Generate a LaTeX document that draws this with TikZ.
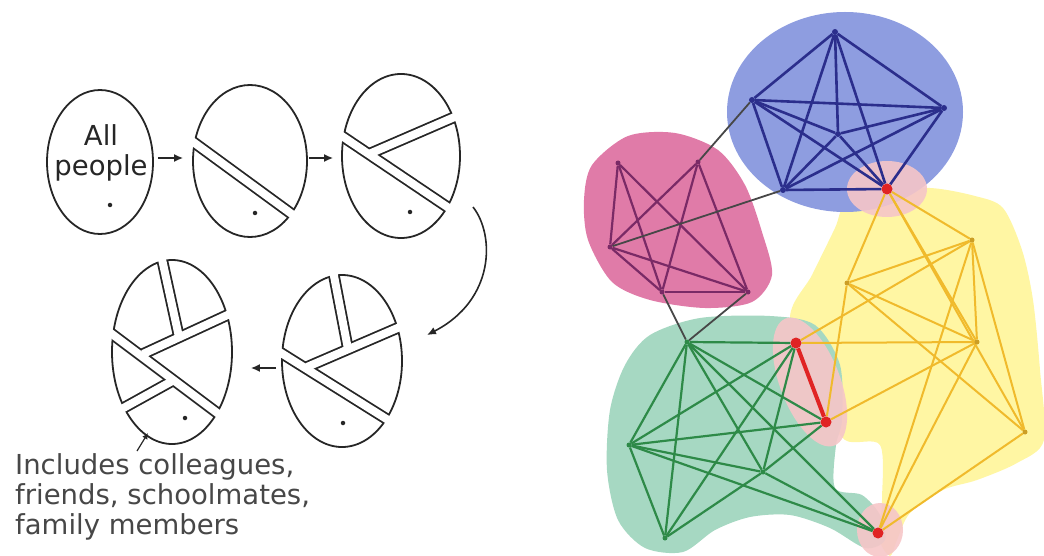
\documentclass[tikz,border=0pt]{standalone}
\usepackage{fontspec}
\setmainfont{DejaVu Sans}
\usepackage{xcolor}
\definecolor{inkGray}{HTML}{262626}
\definecolor{blobBlue}{HTML}{8E9DE0}
\definecolor{linkBlue}{HTML}{2B2E8C}
\definecolor{blobPink}{HTML}{E07BA8}
\definecolor{linkPink}{HTML}{7A2A66}
\definecolor{blobYellow}{HTML}{FFF6A3}
\definecolor{linkYellow}{HTML}{F0BA2C}
\definecolor{blobGreen}{HTML}{A6D8C2}
\definecolor{linkGreen}{HTML}{2E8A48}
\definecolor{haloPink}{HTML}{F6C6C8}
\definecolor{bridgeRed}{HTML}{E02424}
\definecolor{linkGray}{HTML}{474747}
\usetikzlibrary{
    shapes.geometric,
    arrows.meta,
    calc
}
\pgfdeclarelayer{blobs}
\pgfdeclarelayer{links}
\pgfsetlayers{blobs,links,main}
\tikzset{
    % Outline of one group of people
    oval/.style={
        ellipse,
        draw=inkGray,
        line width=1.8pt,
        inner sep=0pt,
    },
    % A cut is a black band that is hollowed out afterwards
    cut band/.style={
        draw=inkGray,
        line width=11.6pt,
    },
    cut gap/.style={
        draw=white,
        line width=8pt,
    },
    % Arrows between the stages
    flow/.style={
        -{Latex[length=9pt, width=8pt]},
        draw=inkGray,
        line width=1.6pt,
    },
    dot/.style={
        circle,
        fill=inkGray,
        inner sep=0pt,
        minimum size=4.5pt,
    },
    note/.style={
        anchor=north west,
        align=left,
        inner sep=0pt,
        text=inkGray!85,
    },
    % Community vertices
    bv/.style={circle, fill=linkBlue, inner sep=0pt, minimum size=6pt},
    pv/.style={circle, fill=linkPink, inner sep=0pt, minimum size=5pt},
    gv/.style={circle, fill=linkGreen, inner sep=0pt, minimum size=5pt},
    yv/.style={circle, fill=linkYellow!85!black, inner sep=0pt, minimum size=5pt},
    rv/.style={circle, fill=bridgeRed, inner sep=0pt, minimum size=11pt},
    % Community links
    blue link/.style={draw=linkBlue, line width=2.6pt},
    pink link/.style={draw=linkPink, line width=2.2pt},
    green link/.style={draw=linkGreen, line width=2.2pt},
    yellow link/.style={draw=linkYellow, line width=2pt},
    gray link/.style={draw=linkGray, line width=1.8pt},
    red link/.style={draw=bridgeRed, line width=4pt},
    halo/.style={fill=haloPink, opacity=0.9},
}

% #1 oval node, #2 x radius, #3 y radius, #4 cuts as start/end pairs
\newcommand{\ovalcuts}[4]{%
    \begin{scope}
        \clip (#1.center) ellipse [x radius=#2pt, y radius=#3pt];
        \foreach \a/\b in {#4} \draw[cut band] (\a) -- (\b);
    \end{scope}
    \begin{scope}
        \clip (#1.center) ellipse [x radius=#2pt+2pt, y radius=#3pt+2pt];
        \foreach \a/\b in {#4} \draw[cut gap] (\a) -- (\b);
    \end{scope}}

\begin{document}
\begin{tikzpicture}[x=1pt, y=-1pt, font=\fontsize{27.5}{30}\selectfont]
    \useasboundingbox (0,0) rectangle (1044,556);

    % ---------- partition of people ----------
    \node[oval, minimum width=106pt, minimum height=144pt] (o1) at (100,162) {};
    \node[oval, minimum width=114pt, minimum height=152pt] (o2) at (250,161) {};
    \node[oval, minimum width=118pt, minimum height=164pt] (o3) at (401,156) {};
    \node[oval, minimum width=120pt, minimum height=172pt] (o4) at (342,361) {};
    \node[oval, minimum width=120pt, minimum height=184pt] (o5) at (172,352) {};

    \node[inner sep=0pt, anchor=north, align=center, text=inkGray] (allppl) at (101,124) {All\\people};

    \coordinate (a2s) at (170,125); \coordinate (a2e) at (330,242);
    \ovalcuts{o2}{57}{76}{a2s/a2e}

    \coordinate (a3s) at (330,128); \coordinate (a3e) at (480,229);
    \coordinate (b3s) at (369,154); \coordinate (b3e) at (480,106);
    \ovalcuts{o3}{59}{82}{a3s/a3e, b3s/b3e}

    \coordinate (a4s) at (270,346); \coordinate (a4e) at (420,440);
    \coordinate (b4s) at (307,367); \coordinate (b4e) at (430,314);
    \coordinate (c4s) at (348,349); \coordinate (c4e) at (330,255);
    \ovalcuts{o4}{60}{86}{a4s/a4e, b4s/b4e, c4s/c4e}

    \coordinate (a5s) at (100,325); \coordinate (a5e) at (260,445);
    \coordinate (b5s) at (143,354); \coordinate (b5e) at (260,300);
    \coordinate (c5s) at (179,337); \coordinate (c5e) at (160,250);
    \coordinate (d5s) at (174,380); \coordinate (d5e) at (100,421);
    \ovalcuts{o5}{60}{92}{a5s/a5e, b5s/b5e, c5s/c5e, d5s/d5e}

    \node[dot] (d1) at (110,205) {};
    \node[dot] (d2) at (255,213) {};
    \node[dot] (d3) at (410,212) {};
    \node[dot] (d4) at (343,423) {};
    \node[dot] (d5) at (185,418) {};

    \draw[flow, shorten <=4pt, shorten >=9pt] ([yshift=4pt]o1.east) -- ([yshift=4pt]o1.east -| o2.west);
    \draw[flow, shorten <=1pt, shorten >=8pt] ([yshift=3pt]o2.east) -- ([yshift=3pt]o2.east -| o3.west);
    \draw[flow] ($(o3)+(72,51)$) .. controls ($(o3)+(94,79)$) and ($(o4)+(153,-61)$) .. ($(o4)+(85,-26)$);
    \draw[flow, shorten <=5pt, shorten >=18pt] ([yshift=-7pt]o4.west) -- ([yshift=-7pt]o4.west -| o5.east);

    \node[note] (note) at (15,453) {Includes colleagues,\\friends, schoolmates,\\family members};
    \coordinate (tail) at (137,451);
    \coordinate (tip) at (148,433);
    \draw[flow, -{Latex[length=6pt, width=6pt]}, line width=1.2pt] (tail) -- (tip);

    % ---------- communities ----------
    \node[bv] (b1) at (835,32) {};
    \node[bv] (b2) at (752,100) {};
    \node[bv] (b3) at (944,108) {};
    \node[bv] (b4) at (838,134) {};
    \node[bv] (b5) at (783,190) {};
    \node[pv] (p1) at (618,163) {};
    \node[pv] (p2) at (698,162) {};
    \node[pv] (p3) at (610,247) {};
    \node[pv] (p4) at (662,292) {};
    \node[pv] (p5) at (748,292) {};
    \node[gv] (g1) at (687,342) {};
    \node[gv] (g2) at (629,445) {};
    \node[gv] (g3) at (665,538) {};
    \node[gv] (g4) at (763,472) {};
    \node[yv] (y1) at (972,240) {};
    \node[yv] (y2) at (847,283) {};
    \node[yv] (y3) at (977,342) {};
    \node[yv] (y4) at (1025,432) {};
    \node[rv] (r1) at (887,189) {};
    \node[rv] (r2) at (796,343) {};
    \node[rv] (r3) at (826,422) {};
    \node[rv] (r4) at (878,533) {};

    \begin{pgfonlayer}{blobs}
        \fill[blobYellow] plot[smooth cycle] coordinates {
            (845,205) (880,192) (930,188) (975,196) (1003,208) (1022,250)
            (1033,300) (1040,370) (1044,440) (1017,463) (977,480) (943,490)
            (910,513) (897,540) (890,556) (880,540) (882,500) (880,445)
            (845,440) (820,400) (790,320) (812,275) (835,228)};
        \fill[blobBlue] (845,112) ellipse [x radius=118pt, y radius=100pt];
        \fill[blobGreen] plot[smooth cycle] coordinates {
            (650,335) (700,318) (770,316) (815,325) (840,365) (842,420)
            (836,445) (835,488) (862,495) (880,515) (885,540) (865,548)
            (830,528) (790,515) (750,517) (715,530) (683,552) (645,548)
            (618,520) (607,470) (610,410) (625,365)};
        \fill[blobPink] plot[smooth cycle] coordinates {
            (592,165) (628,136) (675,133) (718,150) (745,185) (762,232)
            (772,275) (752,302) (705,308) (650,300) (612,282) (588,240)
            (584,200)};
        \fill[halo] (r1) ellipse [x radius=40pt, y radius=28pt];
        \fill[halo] (880,530) ellipse [x radius=23pt, y radius=27pt];
        \fill[halo, rotate around={-69:(810,382)}] (810,382) ellipse [x radius=68pt, y radius=30pt];
    \end{pgfonlayer}

    \begin{pgfonlayer}{links}
        \foreach \a/\b in {b1/b2, b1/b3, b1/b4, b1/b5, b1/r1, b2/b3, b2/b4, b2/b5,
                           b2/r1, b3/b4, b3/b5, b3/r1, b4/b5, b4/r1, b5/r1}
            \draw[blue link] (\a) -- (\b);
        \foreach \a/\b in {p1/p3, p1/p4, p1/p5, p2/p3, p2/p4, p2/p5, p3/p4, p3/p5, p4/p5}
            \draw[pink link] (\a) -- (\b);
        \foreach \a/\b in {g1/g2, g1/g3, g1/g4, g1/r2, g1/r3, g1/r4, g2/g3, g2/g4,
                           g2/r2, g2/r3, g2/r4, g3/g4, g3/r2, g4/r2, g4/r3, g4/r4}
            \draw[green link] (\a) -- (\b);
        \foreach \a/\b in {r1/y1, r1/y2, r1/y3, r1/y4, y1/y2, y1/y3, y1/y4, y1/r2,
                           y1/r4, y2/y3, y2/y4, y2/r3, y3/r2, y3/r3, y3/r4, y4/r4}
            \draw[yellow link] (\a) -- (\b);
        \foreach \a/\b in {b2/p2, b5/p3, p4/g1, p5/g1}
            \draw[gray link] (\a) -- (\b);
        \draw[red link] (r2) -- (r3);
    \end{pgfonlayer}
\end{tikzpicture}
\end{document}
